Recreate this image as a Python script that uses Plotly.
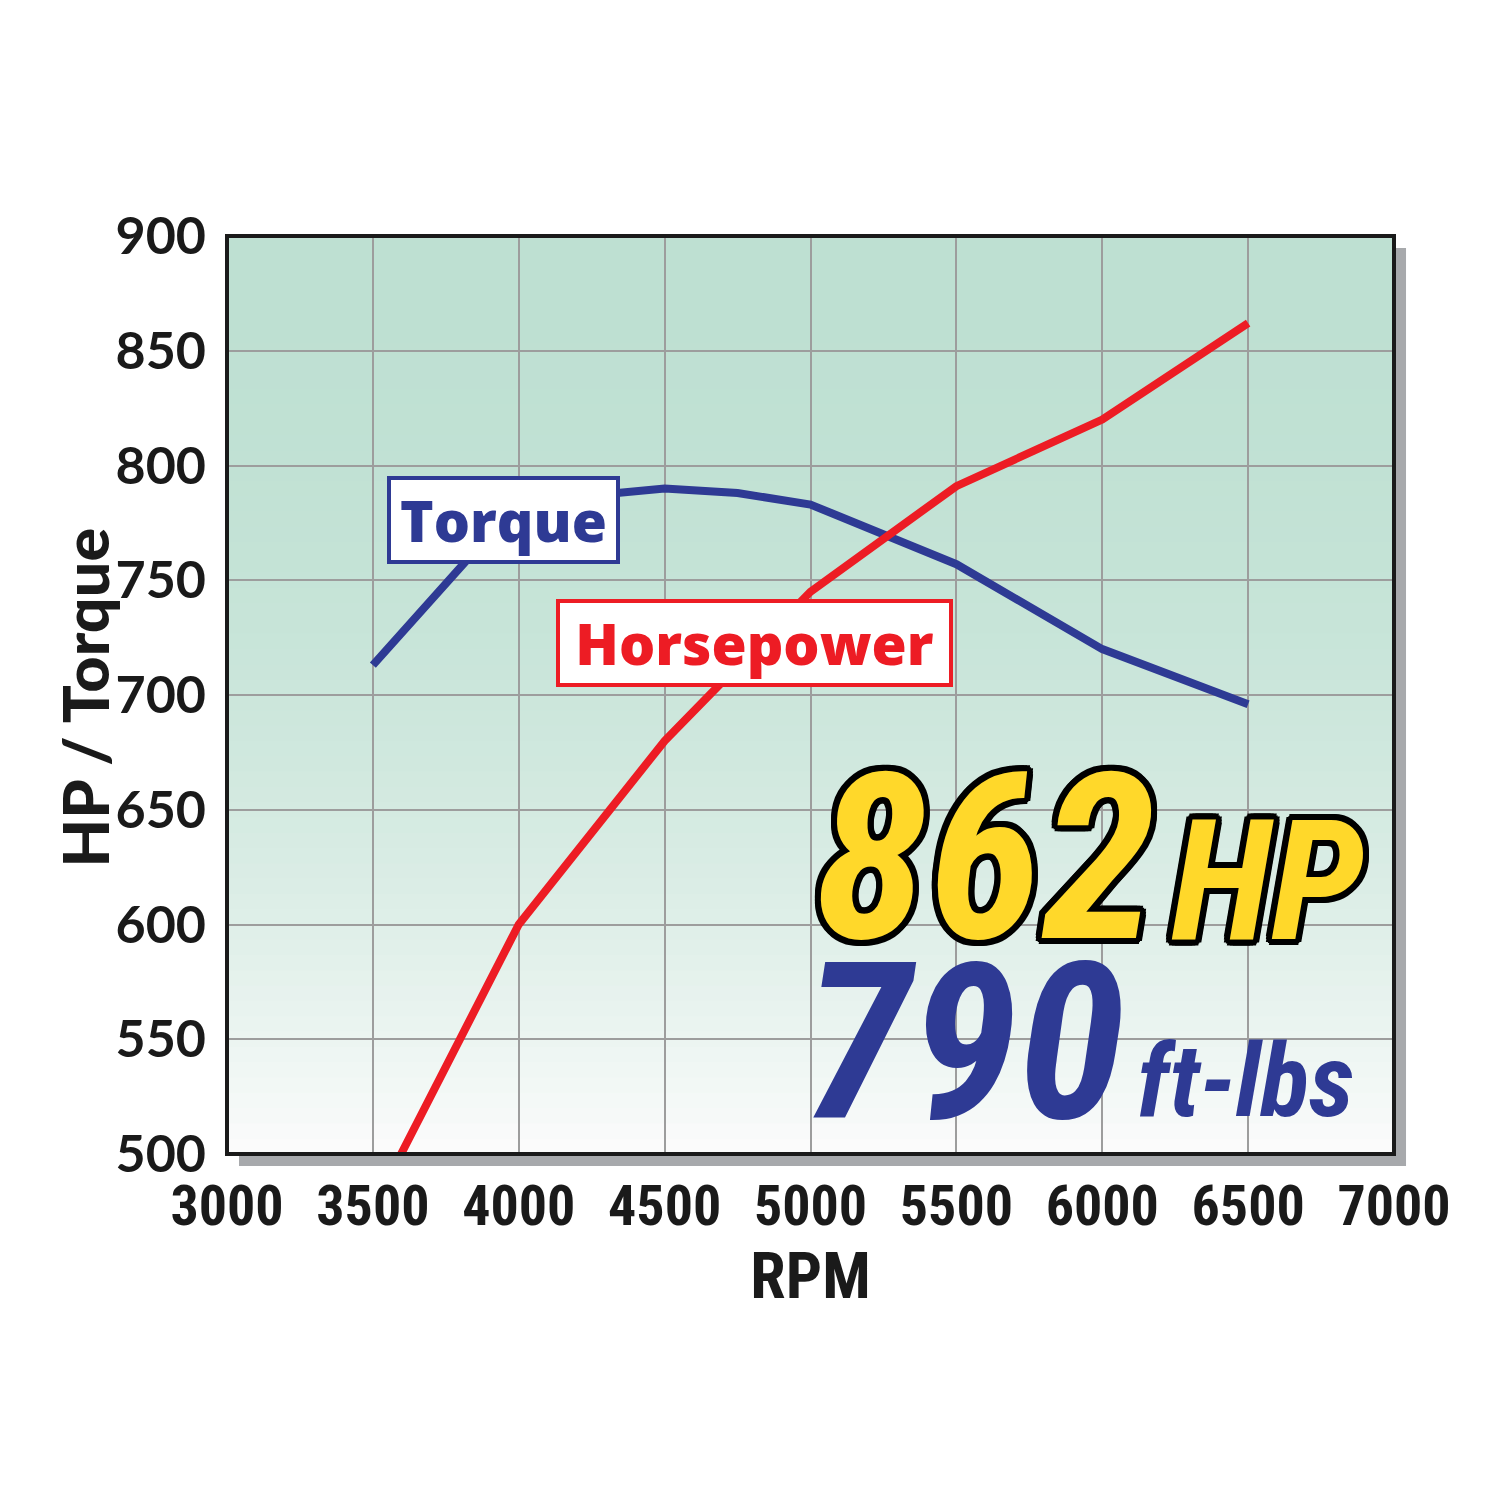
import plotly.graph_objects as go

# ---- data ----
rpm_torque = [3500, 4000, 4500, 4750, 5000, 5500, 6000, 6500]
torque = [713, 784, 790, 788, 783, 757, 720, 696]
rpm_hp = [3500, 4000, 4500, 5000, 5500, 6000, 6500]
horsepower = [476, 600, 680, 745, 791, 820, 862]
x_ticks = [3000, 3500, 4000, 4500, 5000, 5500, 6000, 6500, 7000]
y_ticks = [500, 550, 600, 650, 700, 750, 800, 850, 900]

BLUE = "#2e3a94"
RED = "#ed1c24"
NARROW = ("Noto Sans ExtraCondensed, Noto Sans Condensed, Roboto Condensed, "
          "Liberation Sans Narrow, DejaVu Sans Condensed, sans-serif")
LABEL = "Open Sans, Lato, sans-serif"

fig = go.Figure()
fig.add_trace(go.Scatter(x=rpm_torque, y=torque, mode="lines",
                         line=dict(color=BLUE, width=8), name="Torque",
                         showlegend=False))
fig.add_trace(go.Scatter(x=rpm_hp, y=horsepower, mode="lines",
                         line=dict(color=RED, width=8), name="Horsepower",
                         showlegend=False))

shapes = []
# drop shadow
shapes.append(dict(type="rect", xref="paper", yref="paper",
                   x0=0.0103, x1=1.0103, y0=-0.0131, y1=0.9869,
                   fillcolor="#a7a9ac", line=dict(width=0), layer="below"))
# gradient background strips
N = 60
top = (190, 224, 210)
for i in range(N):
    t0 = i / N
    tm = (i + 0.5) / N
    f = tm ** 2.2
    c = tuple(int(round(top[k] + (252 - top[k]) * f)) for k in range(3))
    y_hi = 1 - t0
    y_lo = 1 - (i + 1) / N - 0.002
    shapes.append(dict(type="rect", xref="x domain", yref="y domain",
                       x0=0, x1=1, y0=max(y_lo, 0), y1=y_hi,
                       fillcolor="rgb(%d,%d,%d)" % c, line=dict(width=0),
                       layer="below"))
# border
shapes.append(dict(type="rect", xref="paper", yref="paper",
                   x0=0, x1=1, y0=0, y1=1,
                   line=dict(color="#1a1a1a", width=4), layer="above"))

annotations = [
    dict(x=3949, y=776.3, xref="x", yref="y", text="Torque",
         showarrow=False, font=dict(family=LABEL, size=57, color=BLUE, weight=800),
         bgcolor="white", bordercolor=BLUE, borderwidth=4, borderpad=0,
         width=225, height=80),
    dict(x=4808, y=722.7, xref="x", yref="y", text="Horsepower",
         showarrow=False, font=dict(family=LABEL, size=57, color=RED, weight=800),
         bgcolor="white", bordercolor=RED, borderwidth=4, borderpad=0,
         width=389, height=80),
    # y-axis title
    dict(x=-0.122, y=0.497, xref="paper", yref="paper", text="HP / Torque",
         textangle=-90, showarrow=False, xanchor="center", yanchor="middle",
         font=dict(family="Lato, sans-serif", size=63, color="#1a1a1a", weight=900)),
]

outline = ", ".join("%dpx %dpx 0 #000" % (dx, dy) for dx, dy in
                    [(6, 0), (-6, 0), (0, 6), (0, -6), (4, 4), (-4, -4), (4, -4), (-4, 4),
                     (6, 3), (-6, 3), (6, -3), (-6, -3), (3, 6), (-3, 6), (3, -6), (-3, -6)])

def px_to_rpm(px):
    return 3000 + (px - 226) / 1167 * 4000

def py_to_val(py):
    return 900 - (py - 235) / 918 * 400

annotations += [
    dict(x=px_to_rpm(984), y=py_to_val(858), xref="x", yref="y", text="862",
         showarrow=False,
         font=dict(family=NARROW, size=232, color="#ffd82a", weight="bold",
                   style="italic", shadow=outline)),
    dict(x=px_to_rpm(1266), y=py_to_val(880), xref="x", yref="y", text="HP",
         showarrow=False,
         font=dict(family=NARROW, size=168, color="#ffd82a", weight="bold",
                   style="italic", shadow=outline)),
    dict(x=px_to_rpm(963), y=py_to_val(1042), xref="x", yref="y", text="790",
         showarrow=False,
         font=dict(family=NARROW, size=218, color=BLUE, weight="bold",
                   style="italic")),
    dict(x=px_to_rpm(1244), y=py_to_val(1080), xref="x", yref="y", text="ft-lbs",
         showarrow=False,
         font=dict(family=NARROW, size=102, color=BLUE, weight="bold",
                   style="italic")),
]

fig.update_layout(
    width=1500, height=1500,
    margin=dict(l=219, r=114, t=228, b=354),
    paper_bgcolor="white", plot_bgcolor="white",
    shapes=shapes, annotations=annotations,
    showlegend=False,
)
fig.update_xaxes(range=[3000, 7000], tickvals=x_ticks,
                 ticktext=[str(v) for v in x_ticks], tickangle=0,
                 showgrid=True, gridcolor="#9d9d9d", gridwidth=2,
                 zeroline=False, showline=False, ticks="",
                 ticklabelstandoff=14,
                 tickfont=dict(family=NARROW, size=56, color="#1a1a1a", weight="bold"),
                 title=dict(text="RPM", standoff=2,
                            font=dict(family=NARROW, size=64, color="#1a1a1a", weight="bold")))
fig.update_yaxes(range=[500, 900], tickvals=y_ticks,
                 ticktext=[str(v) for v in y_ticks],
                 showgrid=True, gridcolor="#9d9d9d", gridwidth=2,
                 zeroline=False, showline=False, ticks="",
                 ticklabelstandoff=20,
                 tickfont=dict(family="Lato, sans-serif", size=52, color="#1a1a1a", weight="bold"))

fig.write_html("out.html")
